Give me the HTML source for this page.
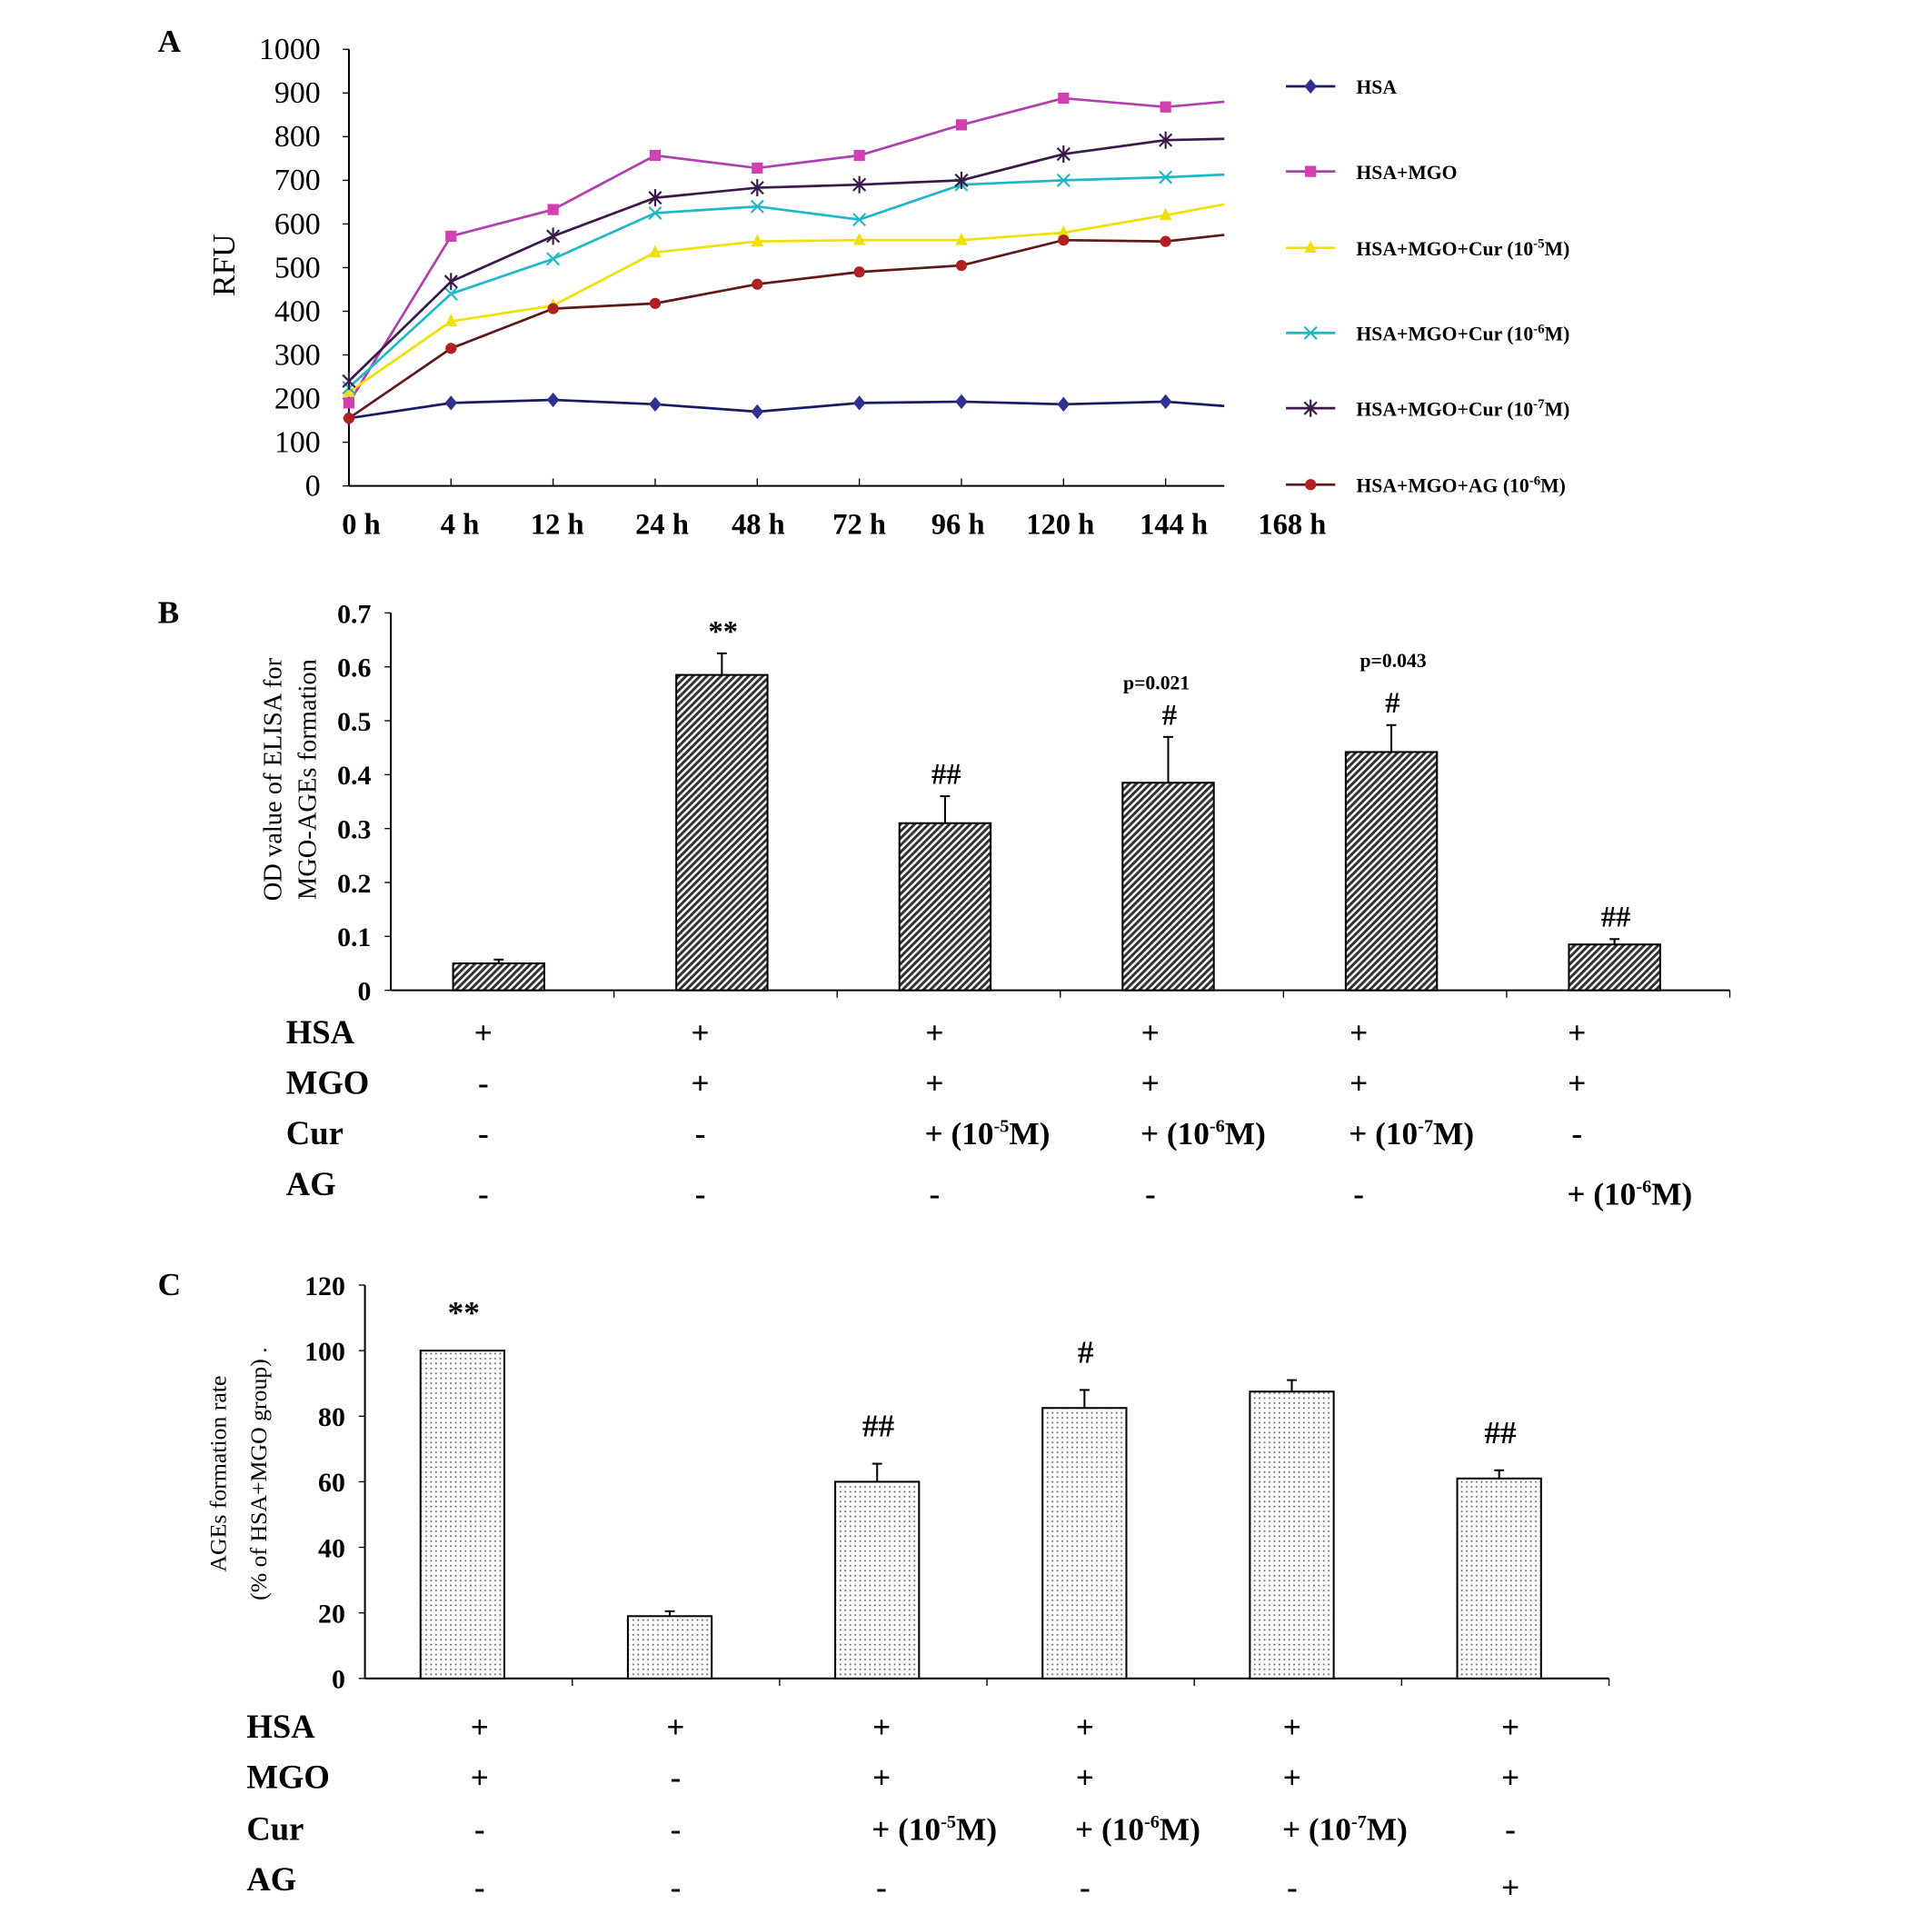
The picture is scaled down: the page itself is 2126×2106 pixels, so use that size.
<!DOCTYPE html>
<html><head><meta charset="utf-8"><style>
html,body{margin:0;padding:0;background:#fff;}
svg{display:block;font-family:"Liberation Serif",serif;}
</style></head><body>
<svg id="fig" width="2126" height="2106" viewBox="0 0 1567 1552" preserveAspectRatio="none" xmlns="http://www.w3.org/2000/svg">
<defs>
<pattern id="hatch" patternUnits="userSpaceOnUse" width="4" height="4" patternTransform="rotate(-45)">
<rect width="4" height="4" fill="#fff"/><rect width="4" height="2.2" fill="#333"/></pattern>
<pattern id="dots" patternUnits="userSpaceOnUse" width="4" height="4">
<rect width="4" height="4" fill="#fff"/><rect x="1" y="1" width="1.3" height="1.3" fill="#666"/></pattern>
</defs>
<g id="gA"></g>
<g id="gB"></g>
<g id="gC"></g>
</svg>
<script>
// Panel A data
const timeLabels = ["0 h","4 h","12 h","24 h","48 h","72 h","96 h","120 h","144 h","168 h"];
const seriesNames = ["HSA","HSA+MGO","HSA+MGO+Cur (10-5M)","HSA+MGO+Cur (10-6M)","HSA+MGO+Cur (10-7M)","HSA+MGO+AG (10-6M)"];
const hsa    = [155,190,197,187,170,190,193,187,193,183];
const hsaMgo = [190,572,633,757,728,757,827,888,868,880];
const cur5   = [215,377,413,535,560,563,563,580,620,645];
const cur6   = [225,440,520,625,640,610,690,700,707,713];
const cur7   = [240,468,572,660,683,690,700,760,792,795];
const ag     = [155,315,406,418,462,490,505,563,560,575];
const ticksA = [0,100,200,300,400,500,600,700,800,900,1000];
// Panel B data
const groupsB = ["g1","g2","g3","g4","g5","g6"];
const valuesB = [0.05,0.585,0.31,0.385,0.442,0.085];
const errorsB = [0.007,0.04,0.05,0.085,0.05,0.01];
const annotB  = ["","**","##","#","#","##"];
const ticksB  = [0,0.1,0.2,0.3,0.4,0.5,0.6,0.7];
const tickLabelsB = ["0","0.1","0.2","0.3","0.4","0.5","0.6","0.7"];
// Panel C data
const valuesC = [100,19,60,82.5,87.5,61];
const errorsC = [0,1.5,5.5,5.5,3.5,2.5];
const annotC  = ["**","","##","#","","##"];
const ticksC  = [0,20,40,60,80,100,120];

const NS="http://www.w3.org/2000/svg";
function mk(parent,tag,attrs,text){const e=document.createElementNS(NS,tag);for(const k in attrs)e.setAttribute(k,attrs[k]);if(text!==undefined)e.textContent=text;parent.appendChild(e);return e;}

// ---------- Panel A ----------
const gA=document.getElementById('gA');
const axA={x0:283,x1:993,y0:394,y1:40,step:82.8};
const xA=i=>axA.x0+i*axA.step;
const yA=v=>axA.y0-(v/1000)*(axA.y0-axA.y1);
let t=mk(gA,'text',{x:128,y:42,'font-size':26,'font-weight':'bold'},'A');


let ax=mk(gA,'line',{x1:axA.x0,y1:axA.y1,x2:axA.x0,y2:axA.y0,stroke:'#000','stroke-width':1.5});

ax=mk(gA,'line',{x1:axA.x0,y1:axA.y0,x2:axA.x1,y2:axA.y0,stroke:'#000','stroke-width':1.5});

ticksA.forEach(v=>{mk(gA,'line',{x1:axA.x0-5,y1:yA(v),x2:axA.x0,y2:yA(v),stroke:'#000'});
 const l=mk(gA,'text',{x:260,y:yA(v)+8,'font-size':25,'text-anchor':'end'},String(v));
 });
for(let i=1;i<9;i++)mk(gA,'line',{x1:xA(i),y1:axA.y0,x2:xA(i),y2:axA.y0-6,stroke:'#000'});
const labelX=[293,373,452,537,615,697,777,860,952,1048];
timeLabels.forEach((s,i)=>{const l=mk(gA,'text',{x:labelX[i],y:433,'font-size':24,'font-weight':'bold','text-anchor':'middle'},s);
 });
t=mk(gA,'text',{transform:'translate(190,215) rotate(-90)','font-size':26,'text-anchor':'middle'},'RFU');

const allSeries=[hsa,hsaMgo,cur5,cur6,cur7,ag];
const lineCol=['#1a1a66','#b040b0','#f0e000','#20b8c8','#3a1a4a','#601818'];
const markCol=['#303090','#d040b0','#f0e000','#20b8c8','#3a1a4a','#b02020'];
const shapes=['diamond','square','triangle','x','star','circle'];
function marker(g,shape,cx,cy,col){
 if(shape==='diamond')mk(g,'polygon',{points:`${cx},${cy-6} ${cx+5},${cy} ${cx},${cy+6} ${cx-5},${cy}`,fill:col});
 else if(shape==='square')mk(g,'rect',{x:cx-4.5,y:cy-4.5,width:9,height:9,fill:col});
 else if(shape==='triangle')mk(g,'polygon',{points:`${cx},${cy-6} ${cx+5},${cy+4} ${cx-5},${cy+4}`,fill:col});
 else if(shape==='circle')mk(g,'circle',{cx,cy,r:4.5,fill:col});
 else {mk(g,'path',{d:`M${cx-5} ${cy-5}L${cx+5} ${cy+5}M${cx+5} ${cy-5}L${cx-5} ${cy+5}`,stroke:col,'stroke-width':1.6});
  if(shape==='star')mk(g,'path',{d:`M${cx} ${cy-7}V${cy+7}`,stroke:col,'stroke-width':1.6});}
}
allSeries.forEach((arr,si)=>{
 const g=mk(gA,'g',{});
 
 
 const pts=arr.map((v,i)=>{const x=i<9?xA(i):axA.x1;return x+','+yA(v);}).join(' ');
 mk(g,'polyline',{points:pts,fill:'none',stroke:lineCol[si],'stroke-width':2});
 arr.forEach((v,i)=>{if(i<9)marker(g,shapes[si],xA(i),yA(v),markCol[si]);});
 const ly=[70,139,201,270,331,393][si];
 const lg=mk(gA,'g',{});
 
 mk(lg,'line',{x1:1043,y1:ly,x2:1083,y2:ly,stroke:lineCol[si],'stroke-width':2});
 marker(lg,shapes[si],1063,ly,markCol[si]);
 const parts=[["HSA"],["HSA+MGO"],["HSA+MGO+Cur (10","-5","M)"],["HSA+MGO+Cur (10","-6","M)"],["HSA+MGO+Cur (10","-7","M)"],["HSA+MGO+AG (10","-6","M)"]][si];
 const tx=mk(lg,'text',{x:1100,y:ly+6,'font-size':16,'font-weight':'bold'});
 mk(tx,'tspan',{},parts[0]);
 if(parts.length>1){mk(tx,'tspan',{'font-size':11,dy:-6},parts[1]);mk(tx,'tspan',{dy:6},parts[2]);}
});

// ---------- Bar panels ----------
function barPanel(g,o){
 const y=v=>o.y0-(v/o.vmax)*(o.y0-o.yTop);
 let a=mk(g,'line',{x1:o.x0,y1:o.yTop,x2:o.x0,y2:o.y0,stroke:'#000','stroke-width':1.5});
 
 a=mk(g,'line',{x1:o.x0,y1:o.y0,x2:o.x1,y2:o.y0,stroke:'#000','stroke-width':1.5});
 
 o.ticks.forEach((v,i)=>{mk(g,'line',{x1:o.x0-5,y1:y(v),x2:o.x0,y2:y(v),stroke:'#000'});
  const l=mk(g,'text',{x:o.x0-16,y:y(v)+8,'font-size':22,'font-weight':'bold','text-anchor':'end'},o.tickLabels[i]);
  });
 const n=o.values.length,cw=(o.x1-o.x0)/n;
 for(let i=1;i<=n;i++)mk(g,'line',{x1:o.x0+i*cw,y1:o.y0,x2:o.x0+i*cw,y2:o.y0+6,stroke:'#000'});
 o.values.forEach((v,i)=>{
  const cx=o.x0+(i+0.5)*cw+o.off;
  const r=mk(g,'rect',{x:cx-o.bw/2,y:y(v),width:o.bw,height:o.y0-y(v),fill:o.fill,stroke:'#000','stroke-width':1.5});
  
  const e=o.errors[i];
  if(e>0){mk(g,'line',{x1:cx,y1:y(v),x2:cx,y2:y(v+e),stroke:'#000','stroke-width':1.5});
   mk(g,'line',{x1:cx-4,y1:y(v+e),x2:cx+4,y2:y(v+e),stroke:'#000','stroke-width':1.5});}
  if(o.annot[i]){const an=mk(g,'text',{x:cx+1,y:y(v+e)-o.annGap,'font-size':o.annSize,'font-weight':'bold','text-anchor':'middle'},o.annot[i]);
   }
 });
 return y;
}
function table(g,labX,rowsY,colX,cells,fs){
 const names=["HSA","MGO","Cur","AG"];
 names.forEach((nm,r)=>{const l=mk(g,'text',{x:labX,y:rowsY[r]+9,'font-size':27,'font-weight':'bold'},nm);
  });
 cells.forEach((row,r)=>row.forEach((c,ci)=>{
  const yy=(r===3?rowsY[3]+o3:rowsY[r])+9;
  const tx=mk(g,'text',{x:colX[ci],y:yy,'font-size':fs,'font-weight':'bold','text-anchor':'start'});
  
  if(c.length===1){tx.setAttribute('text-anchor','middle');tx.textContent=c;}
  else{tx.setAttribute('x',colX[ci]-8);mk(tx,'tspan',{},'+ (10');mk(tx,'tspan',{'font-size':15,dy:-10},c);mk(tx,'tspan',{dy:10},'M)');}
 }));
}
let o3=0;
// Panel B
const gB=document.getElementById('gB');
t=mk(gB,'text',{x:128,y:505,'font-size':26,'font-weight':'bold'},'B');

const yB=barPanel(gB,{x0:317,x1:1403,y0:803,yTop:497,vmax:0.7,ticks:ticksB,tickLabels:tickLabelsB,values:valuesB,errors:errorsB,annot:annotB,bw:74,off:-3,fill:'url(#hatch)',annSize:24,annGap:10});
t=mk(gB,'text',{x:938,y:559,'font-size':16,'font-weight':'bold','text-anchor':'middle'},'p=0.021');

t=mk(gB,'text',{x:1130,y:541,'font-size':16,'font-weight':'bold','text-anchor':'middle'},'p=0.043');

t=mk(gB,'text',{transform:'translate(228,632) rotate(-90)','font-size':21,'text-anchor':'middle'},'OD value of ELISA for');

t=mk(gB,'text',{transform:'translate(256,632) rotate(-90)','font-size':21,'text-anchor':'middle'},'MGO-AGEs formation');

o3=8;
table(gB,232,[837,878,919,960],[392,568,758,933,1102,1279],
 [["+","+","+","+","+","+"],["-","+","+","+","+","+"],["-","-","-5","-6","-7","-"],["-","-","-","-","-","-6"]],26);
// Panel C
const gC=document.getElementById('gC');
t=mk(gC,'text',{x:128,y:1050,'font-size':26,'font-weight':'bold'},'C');

barPanel(gC,{x0:296,x1:1305,y0:1361,yTop:1042,vmax:120,ticks:ticksC,tickLabels:ticksC.map(String),values:valuesC,errors:errorsC,annot:annotC,bw:68,off:-5,fill:'url(#dots)',annSize:26,annGap:22});
t=mk(gC,'text',{transform:'translate(183,1195) rotate(-90)','font-size':19,'text-anchor':'middle'},'AGEs formation rate');

t=mk(gC,'text',{transform:'translate(216,1195) rotate(-90)','font-size':19,'text-anchor':'middle'},'(% of HSA+MGO group) .');

o3=6;
table(gC,200,[1400,1441,1483,1524],[389,548,715,880,1048,1225],
 [["+","+","+","+","+","+"],["+","-","+","+","+","+"],["-","-","-5","-6","-7","-"],["-","-","-","-","-","+"]],26);
</script>
</body></html>
